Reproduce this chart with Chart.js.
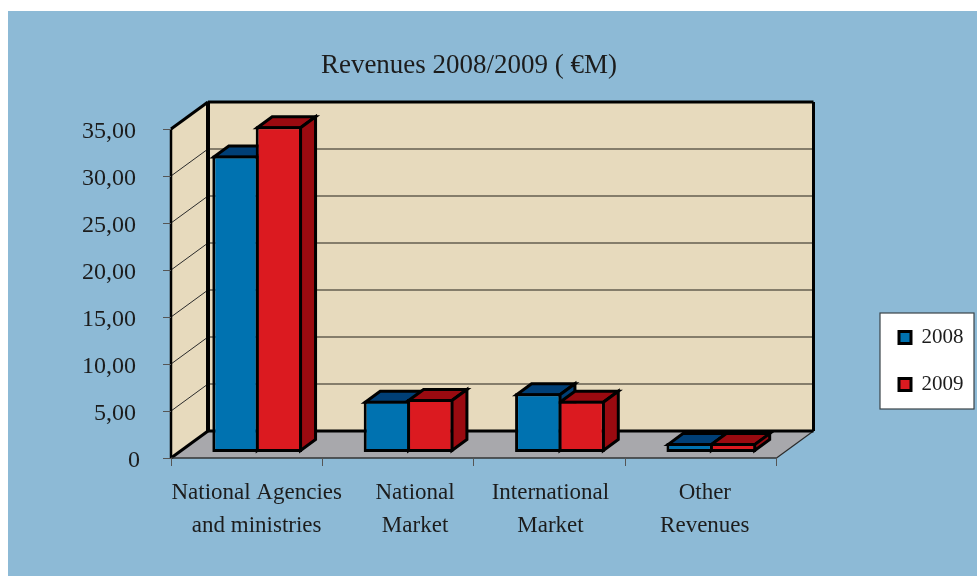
<!DOCTYPE html>
<html>
<head>
<meta charset="utf-8">
<title>Revenues 2008/2009</title>
<script src="https://cdn.jsdelivr.net/npm/chart.js@4"></script>
<style>
  html, body { margin: 0; padding: 0; background: #fff; }
  canvas { display: block; }
</style>
</head>
<body>
<canvas id="revenues" width="977" height="576"></canvas>
<script>
const categories = [
  ["National Agencies", "and ministries"],
  ["National", "Market"],
  ["International", "Market"],
  ["Other", "Revenues"],
];
const revenues2008 = [31.6, 5.5, 6.3, 1];
const revenues2009 = [34.7, 5.7, 5.5, 1];
const yTickStep = 5;
const yMax = 35;

const fontFamily = "'Liberation Serif', serif";
const wallDepth = { x: 37, y: -27 };
const barOffset = { x: 10.5, y: -5.5 };
const barDepth = { x: 15, y: -11 };
const barBorder = 3;
const labelShift = [10, 17, 1, 4];
const legendBox = { left: 880, top: 313, width: 94, height: 96 };

const polygon = (ctx, points, fill, stroke, lineWidth) => {
  ctx.beginPath();
  points.forEach(([x, y], i) => (i ? ctx.lineTo(x, y) : ctx.moveTo(x, y)));
  ctx.closePath();
  if (fill) {
    ctx.fillStyle = fill;
    ctx.fill();
  }
  if (stroke) {
    ctx.strokeStyle = stroke;
    ctx.lineWidth = lineWidth;
    ctx.stroke();
  }
};

const line = (ctx, x1, y1, x2, y2, color, width) => {
  ctx.beginPath();
  ctx.moveTo(x1, y1);
  ctx.lineTo(x2, y2);
  ctx.strokeStyle = color;
  ctx.lineWidth = width;
  ctx.stroke();
};

// walls, floor and the grid behind the bars
const walls = {
  id: "walls",
  afterLayout(chart) {
    const legend = chart.legend;
    legend.left = legendBox.left + 19 - legend.options.labels.padding;
    legend.right = legend.left + legend.width;
    legend.top = legendBox.top + 14 - legend.options.labels.padding;
    legend.bottom = legend.top + 200;

    const title = chart.titleBlock;
    title.left = 469 - title.width / 2;
    title.right = 469 + title.width / 2;
  },
  beforeDraw(chart) {
    const { ctx, chartArea: { left, right, top, bottom }, scales: { x, y } } = chart;
    const dx = wallDepth.x;
    const dy = wallDepth.y;

    if (!x.labelsShifted) {
      x.getLabelItems(chart.chartArea).forEach((item, i) => {
        item.options.translation[0] += labelShift[i];
      });
      y.getLabelItems(chart.chartArea).forEach((item, i) => {
        item.options.translation[1] += 2.5;
        if (i === 0) item.options.translation[0] += 4;
      });
      x.labelsShifted = true;
    }

    ctx.save();
    ctx.fillStyle = "#fff";
    ctx.fillRect(0, 0, chart.width, chart.height);
    ctx.fillStyle = "#8dbad6";
    ctx.fillRect(8, 11, chart.width - 8, chart.height - 11);

    polygon(ctx, [[left + dx, top + dy], [right + dx, top + dy], [right + dx, bottom + dy], [left + dx, bottom + dy]], "#e7dabd");
    polygon(ctx, [[left, top], [left + dx, top + dy], [left + dx, bottom + dy], [left, bottom]], "#e7dabd");
    polygon(ctx, [[left, bottom], [right, bottom], [right + dx, bottom + dy], [left + dx, bottom + dy]], "#a8a8ac");

    for (let v = yTickStep; v < yMax; v += yTickStep) {
      const py = y.getPixelForValue(v);
      line(ctx, left, py, left + dx, py + dy, "#2b2b2b", 1);
      line(ctx, left + dx, py + dy, right + dx, py + dy, "#645e50", 1.5);
    }

    line(ctx, left, top, left + dx, top + dy, "#000", 3);
    line(ctx, left, bottom, left + dx, bottom + dy, "#000", 3);
    line(ctx, right, bottom, right + dx, bottom + dy, "#2b2b2b", 1.2);
    line(ctx, left + dx, top + dy, left + dx, bottom + dy, "#000", 4);
    line(ctx, left + dx, top + dy, right + dx, top + dy, "#000", 3);
    line(ctx, right + dx, top + dy, right + dx, bottom + dy, "#000", 3);
    line(ctx, left + dx, bottom + dy, right + dx, bottom + dy, "#000", 3);
    line(ctx, left, top, left, bottom, "#000", 2.5);
    line(ctx, left, bottom, right, bottom, "#333", 1.5);

    ctx.fillStyle = "#fff";
    ctx.fillRect(legendBox.left, legendBox.top, legendBox.width, legendBox.height);
    ctx.strokeStyle = "#3a4348";
    ctx.lineWidth = 1.2;
    ctx.strokeRect(legendBox.left, legendBox.top, legendBox.width, legendBox.height);
    ctx.restore();
  },
  // the top and side faces go first, the library then paints the fronts over them
  beforeDatasetsDraw(chart) {
    const { ctx } = chart;
    const inset = barBorder / 2;
    ctx.save();
    ctx.translate(barOffset.x, barOffset.y);
    ctx.lineJoin = "miter";
    categories.forEach((_, i) => {
      chart.data.datasets.forEach((dataset, d) => {
        const bar = chart.getDatasetMeta(d).data[i];
        const l = bar.x - bar.width / 2 + inset;
        const r = bar.x + bar.width / 2 - inset;
        const t = bar.y + inset;
        const b = bar.base - inset;
        const ox = barDepth.x;
        const oy = barDepth.y;
        polygon(ctx, [[l, t], [l + ox, t + oy], [r + ox, t + oy], [r, t]], dataset.faceColor, "#000", barBorder);
        polygon(ctx, [[r, t], [r + ox, t + oy], [r + ox, b + oy], [r, b]], dataset.faceColor, "#000", barBorder);
      });
    });
  },
  afterDatasetsDraw(chart) {
    chart.ctx.restore();
  },
};

new Chart(document.getElementById("revenues"), {
  type: "bar",
  plugins: [walls],
  data: {
    labels: categories,
    datasets: [
      {
        label: "2008",
        data: revenues2008,
        backgroundColor: "#0072b0",
        faceColor: "#003f76",
        borderColor: "#000",
        borderWidth: barBorder,
        borderSkipped: false,
      },
      {
        label: "2009",
        data: revenues2009,
        backgroundColor: "#db1a20",
        faceColor: "#9a0a10",
        borderColor: "#000",
        borderWidth: barBorder,
        borderSkipped: false,
      },
    ],
  },
  options: {
    responsive: false,
    animation: false,
    events: [],
    layout: { padding: { left: 0, right: 100, top: 0, bottom: 0 } },
    datasets: {
      // bars overlap by one border so the pair shares a single dividing line
      bar: { categoryPercentage: 0.573, barPercentage: 1.069, clip: false },
    },
    plugins: {
      tooltip: { enabled: false },
      title: {
        display: true,
        text: "Revenues 2008/2009 ( €M)",
        color: "#1c1c1c",
        font: { family: fontFamily, size: 27, weight: "normal" },
        padding: { top: 50, bottom: 46.6 },
      },
      legend: {
        position: "right",
        align: "start",
        labels: {
          color: "#1c1c1c",
          boxWidth: 12,
          boxHeight: 12,
          padding: 26,
          font: { family: fontFamily, size: 21 },
        },
      },
    },
    scales: {
      x: {
        afterFit(scale) { scale.height = 118; },
        border: { display: false },
        grid: { drawOnChartArea: false, tickLength: 8, tickColor: "#555" },
        ticks: {
          color: "#1c1c1c",
          maxRotation: 0,
          autoSkip: false,
          padding: 11,
          font: { family: fontFamily, size: 23, lineHeight: 1.43 },
        },
      },
      y: {
        min: 0,
        max: yMax,
        afterFit(scale) { scale.width = 171; },
        border: { display: false },
        grid: { drawOnChartArea: false, tickLength: 8, tickColor: "#555" },
        ticks: {
          stepSize: yTickStep,
          color: "#1c1c1c",
          padding: 27,
          font: { family: fontFamily, size: 24 },
          callback: (v) => (v === 0 ? "0" : v.toFixed(2).replace(".", ",")),
        },
      },
    },
  },
});
</script>
</body>
</html>
